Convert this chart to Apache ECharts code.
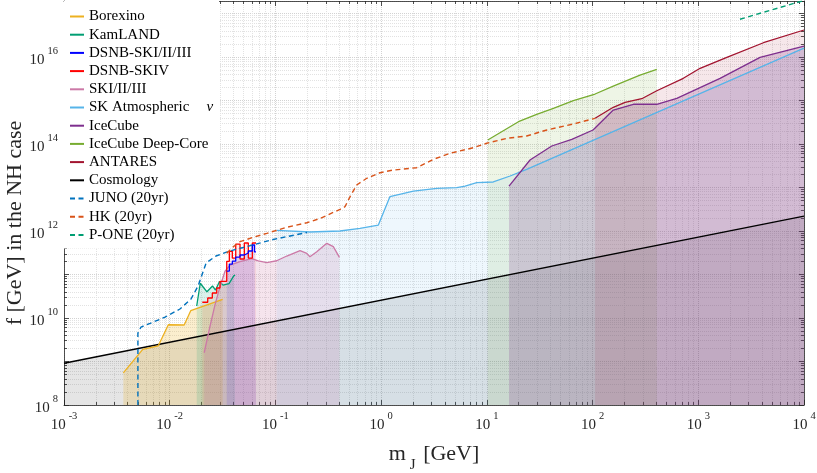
<!DOCTYPE html>
<html>
<head>
<meta charset="utf-8" />
<title>f vs m_J (NH)</title>
<script src="https://cdn.jsdelivr.net/npm/echarts@6.0.0/dist/echarts.min.js"></script>
<style>html,body{margin:0;padding:0;background:#fff;}</style>
</head>
<body>
<div id="main" style="width: 817px;height:473px;"></div>
<script type="text/javascript">
// values, pairs of [m_J (GeV), f (GeV)]
var cosmology = [[1e-3, 9.1e8], [1e4, 2.2e12]];
var borexino = [[3.64e-3, 5.5e8], [5.56e-3, 1.9e9], [7.8e-3, 2.3e9], [9.7e-3, 7.0e9], [1.37e-2, 6.9e9], [1.58e-2, 1.47e10], [3.17e-2, 2.69e10]];
var kamland = [[0.0180, 1.89e10], [0.01945, 6.3e10], [0.0225, 4.0e10], [0.0254, 5.45e10], [0.0271, 4.4e10], [0.0296, 6.9e10], [0.0319, 5.7e10], [0.0364, 6.2e10], [0.0402, 9.2e10], [0.0415, 9.8e10]];
var dsnbSK123 = [[0.03462, 1.20e11], [0.03664, 1.20e11], [0.03664, 1.74e11], [0.03911, 1.74e11], [0.03911, 2.04e11], [0.04211, 2.04e11], [0.04211, 2.52e11], [0.04625, 2.52e11], [0.04625, 2.81e11], [0.05079, 2.81e11], [0.05079, 3.12e11], [0.05541, 3.12e11], [0.05541, 3.47e11], [0.06046, 3.47e11], [0.06046, 4.77e11], [0.0634, 4.77e11], [0.0634, 3.3e11], [0.06553, 3.3e11]];
var dsnbSK4 = [[0.02034, 2.30e10], [0.02288, 2.30e10], [0.02288, 2.88e10], [0.02529, 2.88e10], [0.02529, 3.76e10], [0.02784, 3.76e10], [0.02784, 4.90e10], [0.02991, 4.90e10], [0.02991, 6.98e10], [0.03462, 6.98e10], [0.03462, 2.01e11], [0.03664, 2.01e11], [0.03664, 3.41e11], [0.03911, 3.41e11], [0.03911, 2.39e11], [0.04211, 2.39e11], [0.04211, 5.02e11], [0.04625, 5.02e11], [0.04625, 2.27e11], [0.05079, 2.27e11], [0.05079, 5.30e11], [0.05541, 5.30e11], [0.05541, 2.39e11], [0.06046, 2.39e11], [0.06046, 5.30e11], [0.06553, 5.30e11]];
var skI = [[0.0212, 1.59e9], [0.0240, 6.3e9], [0.0268, 2.0e10], [0.0299, 5.25e10], [0.0334, 1.2e11], [0.0372, 1.65e11], [0.0462, 1.97e11], [0.0597, 2.33e11], [0.0689, 2.07e11], [0.0828, 1.87e11], [0.1028, 2.07e11], [0.128, 2.66e11], [0.171, 3.53e11], [0.198, 3.07e11], [0.212, 2.56e11], [0.246, 3.34e11], [0.306, 5.21e11], [0.353, 4.36e11], [0.403, 2.48e11]];
var skAtm = [[0.1028, 1.03e12], [0.212, 9.5e11], [0.408, 1.0e12], [0.631, 1.15e12], [0.941, 1.37e12], [1.21, 6.15e12], [2.02, 8.3e12], [3.36, 9.6e12], [5.19, 9.9e12], [6.22, 1.08e13], [8.02, 1.29e13], [11.5, 1.34e13], [16.6, 1.84e13], [23.8, 2.62e13], [1e4, 1.6e16]];
var iceCube = [[16.2, 1.08e13], [25.6, 4.29e13], [41.1, 9.0e13], [63.6, 1.28e14], [101, 2.1e14], [157, 6.05e14], [243, 8.2e14], [405, 8.2e14], [626, 1.12e15], [1607, 3.24e15], [3840, 9.85e15], [1e4, 1.79e16]];
var deepCore = [[10.2, 1.24e14], [19.9, 3.26e14], [29.6, 4.82e14], [42.6, 6.62e14], [65.8, 9.9e14], [105.6, 1.41e15], [157, 2.15e15], [281, 3.85e15], [405, 5.21e15]];
var antares = [[105.6, 3.9e14], [157, 6.98e14], [203, 9.1e14], [292, 1.1e15], [405, 1.68e15], [722, 3.24e15], [1040, 5.5e15], [1862, 9.85e15], [4130, 2.13e16], [1e4, 4.18e16]];
var juno = [[0.005, 1e8], [0.005, 4.5e9], [0.00535, 6.2e9], [0.00652, 7.5e9], [0.00903, 1.05e10], [0.0125, 1.61e10], [0.0159, 2.73e10], [0.01855, 5.45e10], [0.0221, 1.84e11], [0.0274, 2.66e11], [0.0356, 3.38e11], [0.0539, 4.41e11], [0.0949, 6.38e11], [0.199, 9.25e11]];
var hk = [[0.0346, 3.07e11], [0.04, 4.36e11], [0.0462, 5.68e11], [0.0618, 7.16e11], [0.0828, 8.85e11], [0.128, 1.22e12], [0.198, 1.55e12], [0.264, 1.94e12], [0.408, 3.15e12], [0.455, 3.62e12], [0.508, 6.15e12], [0.587, 1.14e13], [0.731, 1.63e13], [0.977, 2.19e13], [1.30, 2.52e13], [2.17, 2.85e13], [3.12, 4.45e13], [4.49, 6.11e13], [7.45, 8.22e13], [9.97, 1.04e14], [15.4, 1.35e14], [23.8, 1.53e14], [36.9, 2.1e14], [65.8, 2.88e14], [105.6, 3.9e14]];
var pOne = [[2480, 7.4e16], [1e4, 2.0e17]];

var legendNames = ['Borexino', 'KamLAND', 'DSNB-SKI/II/III', 'DSNB-SKIV', 'SKI/II/III', 'SK Atmospheric', 'IceCube', 'IceCube Deep-Core', 'ANTARES', 'Cosmology', 'JUNO (20yr)', 'HK (20yr)', 'P-ONE (20yr)'];

var FONT = 'Liberation Serif';
var AX = '#262626';

function line(name, data, color, dashed, width) {
    return {
        name: name, type: 'line', data: data, symbol: 'none', z: 3,
        lineStyle: { color: color, width: width || 1.3, type: dashed ? [5, 3.5] : 'solid' },
        itemStyle: { color: color },
        emphasis: { disabled: true }
    };
}
function fill(data, rgba) {
    return {
        type: 'line', data: data, symbol: 'none', z: 1, silent: true,
        lineStyle: { width: 0, opacity: 0 },
        areaStyle: { color: rgba, origin: 'start', opacity: 1 },
        emphasis: { disabled: true }
    };
}
function expo(v) {
    var l = Math.log10(v), e = Math.round(l);
    return Math.abs(l - e) < 1e-6 ? e : null;
}
var tickRich = {
    b: { fontFamily: FONT, fontSize: 15, color: AX, lineHeight: 22, verticalAlign: 'bottom' },
    s: { fontFamily: FONT, fontSize: 10.5, color: AX, lineHeight: 22, verticalAlign: 'top', padding: [0, 0, 0, 3] }
};
var gridLine = { show: true, lineStyle: { type: 'dotted', color: '#d2d2d2', width: 1 } };
var minorGrid = { show: true, lineStyle: { type: 'dotted', color: '#e2e2e2', width: 1 } };

function logAxis(min, max, n, pos, labelFn, extra) {
    var a = {
        type: 'log', logBase: 10, min: min, max: max, splitNumber: n, position: pos,
        axisLine: { show: true, onZero: false, lineStyle: { color: AX, width: 0.8 } },
        axisTick: { show: true, inside: true, length: 5, lineStyle: { color: AX, width: 0.8 } },
        minorTick: { show: true, splitNumber: 9, length: 3, lineStyle: { color: AX, width: 0.8 } },
        axisLabel: labelFn ? { show: true, margin: 6, formatter: labelFn, rich: tickRich } : { show: false },
        splitLine: labelFn ? gridLine : { show: false },
        minorSplitLine: labelFn ? minorGrid : { show: false }
    };
    return Object.assign(a, extra || {});
}

var myChart = echarts.init(document.getElementById('main'));
var option = {
    animation: false,
    backgroundColor: '#fff',
    grid: { left: 64, right: 13, top: 1, bottom: 68, containLabel: false, outerBoundsMode: 'none' },
    legend: {
        data: legendNames, orient: 'vertical', left: 64, top: 1,
        padding: [8, 6, 6, 5], itemGap: 3.2, itemWidth: 14, itemHeight: 14,
        backgroundColor: '#fff',
        itemStyle: { opacity: 0 },
        textStyle: { fontFamily: FONT, fontSize: 15, color: '#000', lineHeight: 14,
            rich: { a: { fontFamily: FONT, fontSize: 15, color: '#000' },
                    v: { fontFamily: FONT, fontSize: 15, color: '#000', fontStyle: 'italic', padding: [0, 0, 0, 17] } } },
        formatter: function (n) { return n === 'SK Atmospheric' ? '{a|SK Atmospheric}{v|\u03bd}' : n; },
        selectedMode: false
    },
    xAxis: [
        logAxis(1e-3, 1e4, 7, 'bottom', function (v) {
            var e = expo(v); return e === null ? '' : '{b|10}{s|' + e + '}';
        }, {
            name: '{m|m}{j|J}{m| [GeV]}', nameLocation: 'middle', nameGap: 38,
            nameTextStyle: { rich: {
                m: { fontFamily: FONT, fontSize: 22, color: AX, lineHeight: 30, verticalAlign: 'top' },
                j: { fontFamily: FONT, fontSize: 15, color: AX, lineHeight: 30, verticalAlign: 'bottom', padding: [0, 2, 0, 4] } } }
        }),
        logAxis(1e-3, 1e4, 7, 'top', null)
    ],
    yAxis: [
        logAxis(1e8, 1.94e17, 10, 'left', function (v) {
            var e = expo(v); return (e === null || e % 2) ? '' : '{b|10}{s|' + e + '}';
        }),
        logAxis(1e8, 1.94e17, 10, 'right', null)
    ],
    graphic: [{
        type: 'text', x: 15, y: 223, rotation: Math.PI / 2,
        style: { text: 'f [GeV] in the NH case', fontFamily: FONT, fontSize: 22, fill: AX, align: 'center', verticalAlign: 'middle' }
    }],
    series: [
        fill(cosmology, 'rgba(0,0,0,0.1)'),
        fill(borexino, 'rgba(237,177,32,0.22)'),
        fill(kamland, 'rgba(0,158,115,0.14)'),
        fill(dsnbSK4, 'rgba(255,0,0,0.08)'),
        fill(dsnbSK123, 'rgba(0,0,255,0.12)'),
        fill(skI, 'rgba(204,121,167,0.2)'),
        fill(skAtm, 'rgba(86,180,233,0.1)'),
        fill(deepCore, 'rgba(119,172,48,0.12)'),
        fill(iceCube, 'rgba(126,47,142,0.2)'),
        fill(antares, 'rgba(162,20,47,0.1)'),
        line('Cosmology', cosmology, '#000000', false, 1.4),
        line('Borexino', borexino, '#EDB120'),
        line('KamLAND', kamland, '#009E73'),
        line('SKI/II/III', skI, '#CC79A7'),
        line('DSNB-SKIV', dsnbSK4, '#FF0000'),
        line('DSNB-SKI/II/III', dsnbSK123, '#0000FF'),
        line('SK Atmospheric', skAtm, '#56B4E9'),
        line('IceCube Deep-Core', deepCore, '#77AC30'),
        line('IceCube', iceCube, '#7E2F8E'),
        line('ANTARES', antares, '#A2142F'),
        line('JUNO (20yr)', juno, '#0072BD', true, 1.4),
        line('HK (20yr)', hk, '#D95319', true, 1.4),
        line('P-ONE (20yr)', pOne, '#009E73', true, 1.4)
    ]
};
myChart.setOption(option);
</script>
</body>
</html>
